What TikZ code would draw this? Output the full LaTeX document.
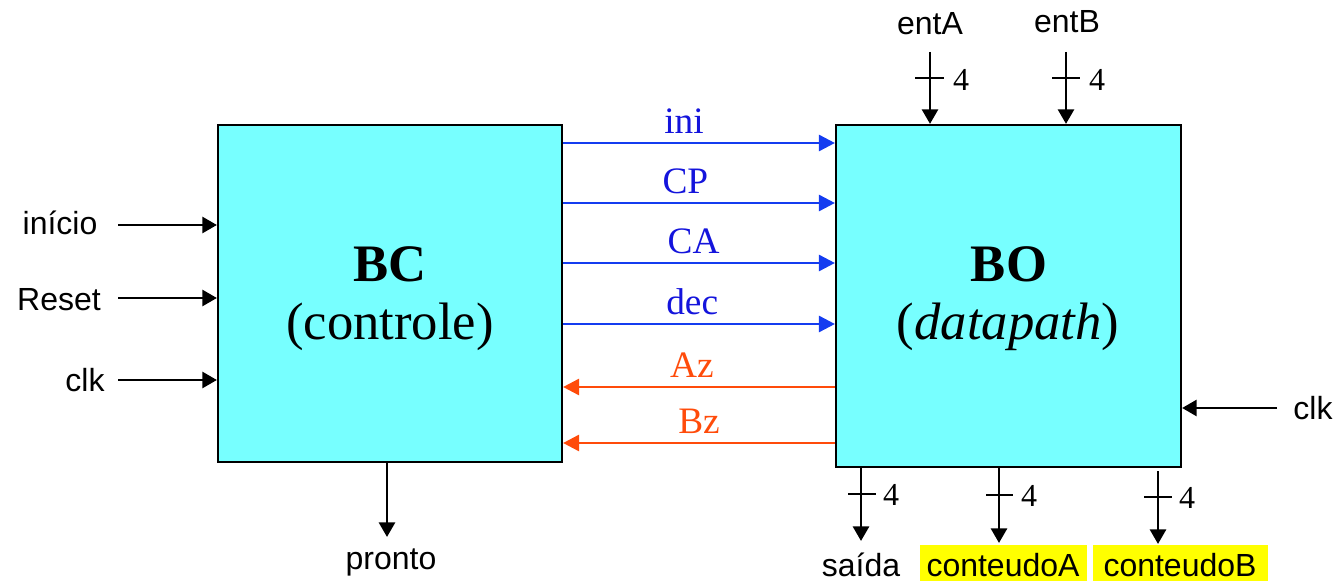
\documentclass[tikz,border=0pt]{standalone}
\usepackage{fontspec}
\setmainfont{Liberation Serif}
\newfontfamily\arialf{Liberation Sans}
\usetikzlibrary{arrows.meta,calc}
\definecolor{boxcyan}{RGB}{119,255,255}
\definecolor{sigblue}{RGB}{20,60,240}
\definecolor{txtblue}{RGB}{20,20,220}
\definecolor{sigred}{RGB}{255,75,10}
\definecolor{hiyellow}{RGB}{255,255,0}
\tikzset{
  blockbox/.style={draw=black,line width=1.6pt,fill=boxcyan,inner sep=0pt},
  wire/.style={line width=2.2pt,-{Triangle[length=11pt,width=12pt]}},
  bluesig/.style={draw=sigblue,line width=2pt,-{Triangle[length=12pt,width=12pt]},text=txtblue},
  redsig/.style={draw=sigred,line width=2pt,-{Triangle[length=12pt,width=12pt]},text=sigred},
  siglabel/.style={font=\fontsize{28}{28}\selectfont,inner sep=0pt,above=6pt},
  sanslabel/.style={font=\arialf\fontsize{24}{24}\selectfont,inner sep=0pt},
  buswidth/.style={font=\fontsize{24}{24}\selectfont,inner sep=0pt},
  tickmark/.style={line width=2pt},
  hilite/.style={fill=hiyellow,inner sep=0pt},
}
\begin{document}
\begin{tikzpicture}[x=0.75pt,y=-0.75pt]
\useasboundingbox (0,0) rectangle (1336,581);
% blocks
\node[blockbox,minimum width=344*0.75pt,minimum height=337*0.75pt] (BC) at (390,293.5) {};
\node[blockbox,minimum width=345*0.75pt,minimum height=342*0.75pt] (BO) at (1008.5,296) {};
\node[font=\bfseries\fontsize{39.5}{40}\selectfont,inner sep=0pt] (BCt) at (390,264) {BC};
\node[font=\fontsize{39.5}{40}\selectfont,inner sep=0pt] (BCs) at (390,327) {(controle)};
\node[font=\bfseries\fontsize{39.5}{40}\selectfont,inner sep=0pt] (BOt) at (1009,264) {BO};
\node[font=\fontsize{39.5}{40}\selectfont,inner sep=0pt] (BOs) at (1008,327) {(\textit{datapath})};
% control signals
\coordinate (yini) at (0,143);
\coordinate (ycp) at (0,203);
\coordinate (yca) at (0,263);
\coordinate (ydec) at (0,324);
\coordinate (yaz) at (0,387);
\coordinate (ybz) at (0,443);
\draw[bluesig] (BC.east |- yini) -- (BO.west |- yini) node[siglabel,pos=0.445] (lini) {ini};
\draw[bluesig] (BC.east |- ycp) -- (BO.west |- ycp) node[siglabel,pos=0.45] (lcp) {CP};
\draw[bluesig] (BC.east |- yca) -- (BO.west |- yca) node[siglabel,pos=0.48] (lca) {CA};
\draw[bluesig] (BC.east |- ydec) -- (BO.west |- ydec) node[siglabel,pos=0.475] (ldec) {dec};
\draw[redsig] (BO.west |- yaz) -- (BC.east |- yaz) node[siglabel,pos=0.526] (laz) {Az};
\draw[redsig] (BO.west |- ybz) -- (BC.east |- ybz) node[siglabel,pos=0.50] (lbz) {Bz};
% left inputs
\node[sanslabel] (inicio) at (60,223) {início};
\node[sanslabel] (reset) at (59,300) {Reset};
\node[sanslabel] (clkl) at (85,380) {clk};
\coordinate (ainicio) at (118,225);
\coordinate (areset) at (118,298);
\coordinate (aclkl) at (118,380);
\draw[wire] (ainicio) -- (BC.west |- ainicio);
\draw[wire] (areset) -- (BC.west |- areset);
\draw[wire] (aclkl) -- (BC.west |- aclkl);
% pronto
\node[sanslabel] (pronto) at (391,562) {pronto};
\coordinate (apronto) at (387,537);
\draw[wire] (BC.south -| apronto) -- (apronto);
% top inputs of BO
\node[sanslabel] (entA) at (930,24) {entA};
\node[sanslabel] (entB) at (1067,22) {entB};
\coordinate (aentA) at (930,52);
\coordinate (aentB) at (1066,52);
\draw[wire] (aentA) -- (BO.north -| aentA);
\draw[wire] (aentB) -- (BO.north -| aentB);
\draw[tickmark] (915,78) -- (944,78);
\draw[tickmark] (1052,78) -- (1080,78);
\node[buswidth] (wA) at (961,80) {4};
\node[buswidth] (wB) at (1097,80) {4};
% right clk
\node[sanslabel] (clkr) at (1313,408) {clk};
\coordinate (aclkr) at (1277,408);
\draw[wire] (aclkr) -- (BO.east |- aclkr);
% bottom outputs of BO
\node[sanslabel] (saida) at (861,565) {saída};
\node[hilite,minimum width=167*0.75pt,minimum height=36*0.75pt] (hA) at (1003.5,563) {};
\node[hilite,minimum width=175*0.75pt,minimum height=36*0.75pt] (hB) at (1180.5,563) {};
\node[sanslabel] (contA) at (1003,565) {conteudoA};
\node[sanslabel] (contB) at (1180,565) {conteudoB};
\coordinate (asaida) at (861,541);
\coordinate (acontA) at (999,543);
\coordinate (acontB) at (1158,544);
\draw[wire] (BO.south -| asaida) -- (asaida);
\draw[wire] (BO.south -| acontA) -- (acontA);
\draw[wire] (1158,471) -- (acontB);
\draw[tickmark] (848,494) -- (876,494);
\draw[tickmark] (986,495) -- (1013,495);
\draw[tickmark] (1144,497) -- (1172,497);
\node[buswidth] (wS) at (891,495) {4};
\node[buswidth] (wCA) at (1029,496) {4};
\node[buswidth] (wCB) at (1187,498) {4};
\end{tikzpicture}
\end{document}
